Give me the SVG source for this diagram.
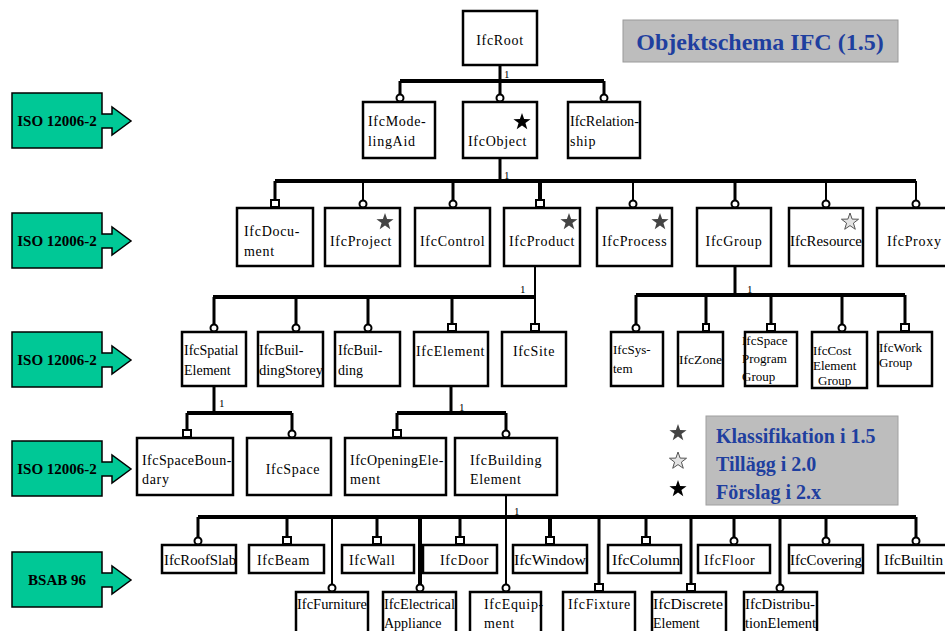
<svg xmlns="http://www.w3.org/2000/svg" width="945" height="631" viewBox="0 0 945 631">
<defs>
<style>
.box{fill:#fff;stroke:#000;stroke-width:2.5}
.t{font-family:"Liberation Serif",serif;font-size:14px;letter-spacing:0.7px;fill:#000}
.tc{font-family:"Liberation Serif",serif;font-size:14px;letter-spacing:0.7px;fill:#000;text-anchor:middle}
.tn{font-family:"Liberation Serif",serif;font-size:14px;fill:#000}
.ts{font-family:"Liberation Serif",serif;font-size:13px;fill:#000}
.iso{fill:#00c896;stroke:#000;stroke-width:1.5}
.isot{font-family:"Liberation Serif",serif;font-size:15px;font-weight:bold;fill:#000;text-anchor:middle}
.bar{stroke:#000;stroke-width:4;fill:none}
.drop{stroke:#000;stroke-width:3;fill:none}
.thin{stroke:#000;stroke-width:2;fill:none}
.mk{fill:#fff;stroke:#000;stroke-width:2}
.one{font-family:"Liberation Serif",serif;font-size:11px;fill:#000}
.blue{font-family:"Liberation Serif",serif;font-weight:bold;fill:#1f3f9f}
</style>
<path id="star" d="M0,-9 L2.12,-2.91 L8.56,-2.78 L3.42,1.11 L5.29,7.28 L0,3.6 L-5.29,7.28 L-3.42,1.11 L-8.56,-2.78 L-2.12,-2.91 Z"/>
<path id="arrow" d="M0,0 H90 V21 H100 V14 L119,28 L100,42 V35 H90 V55 H0 Z"/>
</defs>
<rect width="945" height="631" fill="#fff"/>

<g id="title">
<rect x="623" y="20" width="275" height="42" fill="#bdbdbd" stroke="#9a9a9a" stroke-width="1"/>
<text class="blue" x="760" y="50" font-size="24" text-anchor="middle">Objektschema IFC (1.5)</text>
</g>

<g id="iso1"><use href="#arrow" x="12" y="93" class="iso"/><text class="isot" x="57" y="126">ISO 12006-2</text></g>
<g id="iso2"><use href="#arrow" x="12" y="213" class="iso"/><text class="isot" x="57" y="246">ISO 12006-2</text></g>
<g id="iso3"><use href="#arrow" x="12" y="332" class="iso"/><text class="isot" x="57" y="365">ISO 12006-2</text></g>
<g id="iso4"><use href="#arrow" x="12" y="441" class="iso"/><text class="isot" x="57" y="474">ISO 12006-2</text></g>
<g id="bsab"><use href="#arrow" x="12" y="552" class="iso"/><text class="isot" x="57" y="585">BSAB 96</text></g>

<g id="connectors">
<path class="drop" d="M500,65 V81"/>
<path class="bar" d="M400,81 H604"/>
<path class="drop" d="M400,81 V97 M500,81 V97 M604,81 V97"/>
<path class="drop" d="M500,158 V181"/>
<path class="bar" d="M275,181 H916"/>
<path class="drop" d="M275,181 V203 M453,181 V203 M735,181 V203"/>
<path class="thin" d="M363,181 V203 M633,181 V203 M826,181 V203 M916,181 V203"/>
<path class="bar" d="M540,181 V203"/>
<path class="thin" d="M535,266 V327"/>
<path class="bar" d="M213,297 H535"/>
<path class="drop" d="M214,297 V327 M296,297 V327 M368,297 V327 M452,297 V327"/>
<path class="drop" d="M735,266 V295"/>
<path class="bar" d="M636,295 H905"/>
<path class="drop" d="M636,295 V327 M706,295 V327 M771,295 V327 M842,295 V327 M905,295 V327"/>
<path class="drop" d="M214,386 V413"/>
<path class="bar" d="M187,413 H292"/>
<path class="drop" d="M187,413 V433 M292,413 V433"/>
<path class="drop" d="M451,386 V413"/>
<path class="bar" d="M397,413 H506"/>
<path class="drop" d="M397,413 V433 M506,413 V433"/>
<path class="thin" d="M506,495 V517"/>
<path class="bar" d="M198,517 H916"/>
<path class="drop" d="M198,517 V540 M287,517 V540 M377,517 V540 M460,517 V540 M646,517 V540 M734,517 V540 M826,517 V540 M916,517 V540"/>
<path class="bar" d="M550,517 V540"/>
<path class="thin" d="M332,517 V587"/>
<path class="bar" d="M420,517 V587"/>
<path class="thin" d="M506,517 V587"/>
<path class="drop" d="M599,517 V587 M691,517 V587 M780,517 V587"/>
<g id="markers">
<circle class="mk" cx="400" cy="98" r="3.5"/><circle class="mk" cx="500" cy="98" r="3.5"/><circle class="mk" cx="604" cy="98" r="3.5"/>
<rect class="mk" x="271" y="200" width="8" height="7"/><circle class="mk" cx="363" cy="204" r="3.5"/><circle class="mk" cx="453" cy="204" r="3.5"/>
<rect class="mk" x="536" y="200" width="8" height="7"/><circle class="mk" cx="633" cy="204" r="3.5"/><circle class="mk" cx="735" cy="204" r="3.5"/>
<circle class="mk" cx="826" cy="204" r="3.5"/><circle class="mk" cx="916" cy="204" r="3.5"/>
<circle class="mk" cx="214" cy="328" r="3.5"/><circle class="mk" cx="296" cy="328" r="3.5"/><circle class="mk" cx="368" cy="328" r="3.5"/>
<rect class="mk" x="448" y="324" width="8" height="7"/><rect class="mk" x="531" y="324" width="8" height="7"/>
<circle class="mk" cx="636" cy="328" r="3.5"/><rect class="mk" x="703" y="324" width="6" height="7"/><rect class="mk" x="767" y="324" width="8" height="7"/>
<circle class="mk" cx="842" cy="328" r="3.5"/><rect class="mk" x="901" y="324" width="8" height="7"/>
<rect class="mk" x="183" y="430" width="8" height="7"/><circle class="mk" cx="292" cy="434" r="3.5"/>
<rect class="mk" x="393" y="430" width="8" height="7"/><circle class="mk" cx="506" cy="434" r="3.5"/>
<circle class="mk" cx="198" cy="541" r="3.5"/><rect class="mk" x="283" y="537" width="8" height="7"/><rect class="mk" x="373" y="537" width="8" height="7"/>
<rect class="mk" x="456" y="537" width="8" height="7"/><rect class="mk" x="546" y="537" width="8" height="7"/><rect class="mk" x="642" y="537" width="8" height="7"/>
<circle class="mk" cx="734" cy="541" r="3.5"/><circle class="mk" cx="826" cy="541" r="3.5"/><circle class="mk" cx="916" cy="541" r="3.5"/>
<circle class="mk" cx="332" cy="588" r="3.5"/><circle class="mk" cx="420" cy="588" r="3.5"/><circle class="mk" cx="506" cy="588" r="3.5"/>
<rect class="mk" x="595" y="584" width="8" height="7"/><rect class="mk" x="687" y="584" width="8" height="7"/><circle class="mk" cx="780" cy="588" r="3.5"/>
</g>
<text class="one" x="504" y="78">1</text>
<text class="one" x="504" y="179">1</text>
<text class="one" x="520" y="293">1</text>
<text class="one" x="747" y="293">1</text>
<text class="one" x="219" y="407">1</text>
<text class="one" x="459" y="411">1</text>
<text class="one" x="514" y="515">1</text>
</g>

<g id="IfcRoot"><rect class="box" x="463" y="11" width="74" height="54"/><text class="tc" x="500" y="45">IfcRoot</text></g>

<g id="IfcModelingAid"><rect class="box" x="363" y="102" width="72" height="56"/><text class="t" x="368" y="126">IfcMode-</text><text class="t" x="368" y="146">lingAid</text></g>
<g id="IfcObject"><rect class="box" x="463" y="102" width="74" height="56"/><text class="t" x="468" y="146">IfcObject</text><use href="#star" x="522" y="122" fill="#000"/></g>
<g id="IfcRelationship"><rect class="box" x="568" y="102" width="72" height="56"/><text class="tn" x="570" y="126" textLength="69" lengthAdjust="spacingAndGlyphs">IfcRelation-</text><text class="t" x="570" y="146">ship</text></g>

<g id="IfcDocument"><rect class="box" x="237" y="208" width="76" height="58"/><text class="t" x="244" y="236">IfcDocu-</text><text class="t" x="244" y="256">ment</text></g>
<g id="IfcProject"><rect class="box" x="325" y="208" width="75" height="58"/><text class="t" x="330" y="246">IfcProject</text><use href="#star" x="385" y="222" fill="#444"/></g>
<g id="IfcControl"><rect class="box" x="415" y="208" width="75" height="58"/><text class="t" x="420" y="246">IfcControl</text></g>
<g id="IfcProduct"><rect class="box" x="504" y="208" width="76" height="58"/><text class="t" x="509" y="246">IfcProduct</text><use href="#star" x="569" y="222" fill="#444"/></g>
<g id="IfcProcess"><rect class="box" x="597" y="208" width="75" height="58"/><text class="t" x="602" y="246">IfcProcess</text><use href="#star" x="660" y="222" fill="#444"/></g>
<g id="IfcGroup"><rect class="box" x="697" y="208" width="74" height="58"/><text class="tc" x="734" y="246">IfcGroup</text></g>
<g id="IfcResource"><rect class="box" x="789" y="208" width="74" height="58"/><text class="tn" x="790" y="246" textLength="72" lengthAdjust="spacingAndGlyphs">IfcResource</text><use href="#star" x="850" y="222" fill="#e4e4e4" stroke="#555" stroke-width="1"/></g>
<g id="IfcProxy"><rect class="box" x="877" y="208" width="80" height="58"/><text class="t" x="887" y="246">IfcProxy</text></g>

<g id="IfcSpatialElement"><rect class="box" x="182" y="332" width="64" height="54"/><text class="tn" x="184" y="355">IfcSpatial</text><text class="tn" x="184" y="375">Element</text></g>
<g id="IfcBuildingStorey"><rect class="box" x="258" y="332" width="65" height="54"/><text class="tn" x="259" y="355">IfcBuil-</text><text class="tn" x="259" y="375" textLength="64" lengthAdjust="spacingAndGlyphs">dingStorey</text></g>
<g id="IfcBuilding"><rect class="box" x="335" y="332" width="65" height="54"/><text class="tn" x="338" y="355">IfcBuil-</text><text class="tn" x="338" y="375">ding</text></g>
<g id="IfcElement"><rect class="box" x="414" y="332" width="74" height="54"/><text class="t" x="416" y="356">IfcElement</text></g>
<g id="IfcSite"><rect class="box" x="502" y="332" width="64" height="54"/><text class="tc" x="534" y="356">IfcSite</text></g>

<g id="IfcSystem"><rect class="box" x="611" y="332" width="52" height="54"/><text class="ts" x="613" y="354">IfcSys-</text><text class="ts" x="613" y="373">tem</text></g>
<g id="IfcZone"><rect class="box" x="678" y="332" width="45" height="54"/><text class="ts" x="679" y="364" textLength="43" lengthAdjust="spacingAndGlyphs">IfcZone</text></g>
<g id="IfcSpaceProgramGroup"><rect class="box" x="745" y="332" width="52" height="54"/><text class="ts" x="742" y="345">IfcSpace</text><text class="ts" x="742" y="363">Program</text><text class="ts" x="742" y="381">Group</text></g>
<g id="IfcCostElementGroup"><rect class="box" x="812" y="332" width="55" height="56"/><text class="ts" x="813" y="355">IfcCost</text><text class="ts" x="813" y="370">Element</text><text class="ts" x="818" y="385">Group</text></g>
<g id="IfcWorkGroup"><rect class="box" x="878" y="332" width="54" height="54"/><text class="ts" x="879" y="352">IfcWork</text><text class="ts" x="879" y="367">Group</text></g>

<g id="IfcSpaceBoundary"><rect class="box" x="137" y="438" width="96" height="57"/><text class="t" x="142" y="465" textLength="90">IfcSpaceBoun-</text><text class="t" x="142" y="484">dary</text></g>
<g id="IfcSpace"><rect class="box" x="247" y="438" width="84" height="57"/><text class="tc" x="293" y="474">IfcSpace</text></g>
<g id="IfcOpeningElement"><rect class="box" x="345" y="438" width="101" height="57"/><text class="t" x="350" y="465" textLength="94">IfcOpeningEle-</text><text class="t" x="350" y="484">ment</text></g>
<g id="IfcBuildingElement"><rect class="box" x="455" y="438" width="102" height="57"/><text class="t" x="470" y="465">IfcBuilding</text><text class="t" x="470" y="484">Element</text></g>

<g id="legend">
<rect x="706" y="416" width="192" height="89" fill="#bdbdbd" stroke="#a0a0a0" stroke-width="1"/>
<use href="#star" x="678" y="433" fill="#444"/>
<use href="#star" x="678" y="461" fill="#e4e4e4" stroke="#555" stroke-width="1"/>
<use href="#star" x="678" y="489" fill="#000"/>
<text class="blue" x="716" y="443" font-size="20">Klassifikation i 1.5</text>
<text class="blue" x="716" y="471" font-size="20">Tillägg i 2.0</text>
<text class="blue" x="716" y="499" font-size="20">Förslag i 2.x</text>
</g>

<g id="IfcRoofSlab"><rect class="box" x="162" y="545" width="74" height="28"/><text class="tn" x="164" y="565" textLength="72" lengthAdjust="spacingAndGlyphs">IfcRoofSlab</text></g>
<g id="IfcBeam"><rect class="box" x="249" y="545" width="75" height="28"/><text class="t" x="257" y="565">IfcBeam</text></g>
<g id="IfcWall"><rect class="box" x="342" y="545" width="72" height="28"/><text class="t" x="349" y="565">IfcWall</text></g>
<g id="IfcDoor"><rect class="box" x="423" y="545" width="74" height="28"/><text class="t" x="440" y="565">IfcDoor</text></g>
<g id="IfcWindow"><rect class="box" x="513" y="545" width="74" height="28"/><text class="tn" x="514" y="565" textLength="72" lengthAdjust="spacingAndGlyphs">IfcWindow</text></g>
<g id="IfcColumn"><rect class="box" x="608" y="545" width="73" height="28"/><text class="tn" x="612" y="565" textLength="68" lengthAdjust="spacingAndGlyphs">IfcColumn</text></g>
<g id="IfcFloor"><rect class="box" x="698" y="545" width="72" height="28"/><text class="t" x="704" y="565">IfcFloor</text></g>
<g id="IfcCovering"><rect class="box" x="789" y="545" width="74" height="28"/><text class="tn" x="790" y="565" textLength="72" lengthAdjust="spacingAndGlyphs">IfcCovering</text></g>
<g id="IfcBuiltin"><rect class="box" x="878" y="545" width="80" height="28"/><text class="tn" x="884" y="565" textLength="59" lengthAdjust="spacingAndGlyphs">IfcBuiltin</text></g>

<g id="IfcFurniture"><rect class="box" x="296" y="592" width="72" height="50"/><text class="tn" x="297" y="609" textLength="70" lengthAdjust="spacingAndGlyphs">IfcFurniture</text></g>
<g id="IfcElectricalAppliance"><rect class="box" x="383" y="592" width="73" height="50"/><text class="tn" x="384" y="609" textLength="71" lengthAdjust="spacingAndGlyphs">IfcElectrical</text><text class="tn" x="384" y="628">Appliance</text></g>
<g id="IfcEquipment"><rect class="box" x="470" y="592" width="71" height="50"/><text class="t" x="484" y="609">IfcEquip-</text><text class="t" x="484" y="628">ment</text></g>
<g id="IfcFixture"><rect class="box" x="563" y="592" width="72" height="50"/><text class="t" x="568" y="609">IfcFixture</text></g>
<g id="IfcDiscreteElement"><rect class="box" x="652" y="592" width="74" height="50"/><text class="tn" x="653" y="609" textLength="70" lengthAdjust="spacingAndGlyphs">IfcDiscrete</text><text class="tn" x="653" y="628">Element</text></g>
<g id="IfcDistributionElement"><rect class="box" x="744" y="592" width="73" height="50"/><text class="tn" x="745" y="609" textLength="70" lengthAdjust="spacingAndGlyphs">IfcDistribu-</text><text class="tn" x="745" y="628" textLength="71" lengthAdjust="spacingAndGlyphs">tionElement</text></g>
</svg>
